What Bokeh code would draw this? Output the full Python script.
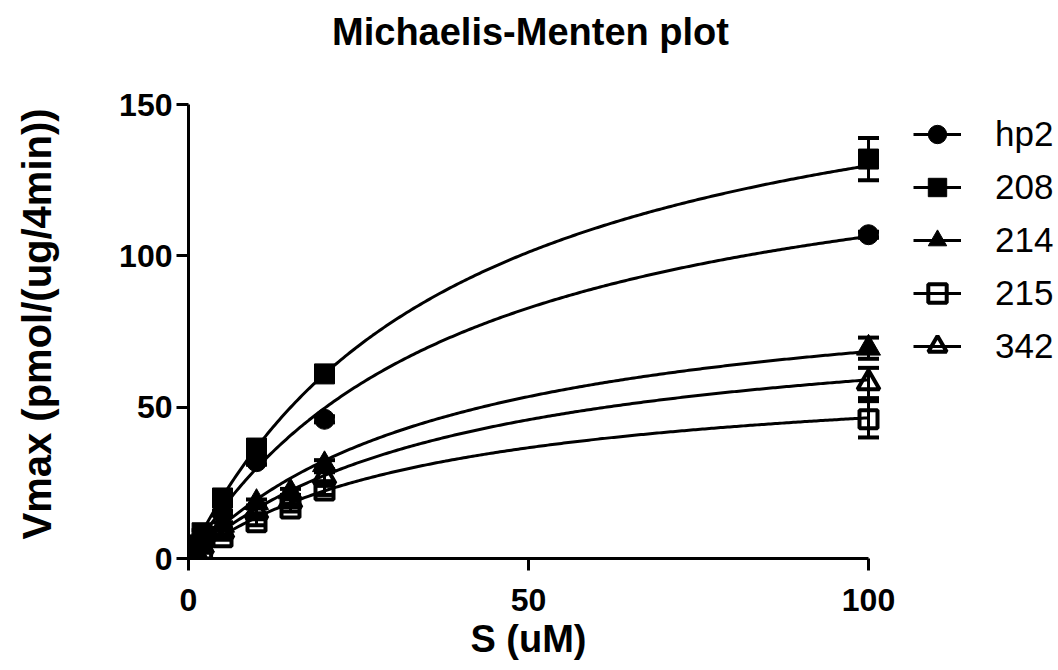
import numpy as np
from bokeh.plotting import figure
from bokeh.models import (Range1d, FixedTicker, Legend, LegendItem, Label,
                          Whisker, ColumnDataSource, TeeHead)
from bokeh.embed import file_html
from bokeh.resources import INLINE

# ---------------- data ----------------
title_text = "Michaelis-Menten plot"
x_label = "S (uM)"
y_label = "Vmax (pmol/(ug/4min))"
x_ticks = [0, 50, 100]
y_ticks = [0, 50, 100, 150]

series_names = ["hp2", "208", "214", "215", "342"]
series_markers = ["circle", "square", "triangle", "square", "triangle"]
series_filled = [True, True, True, False, False]

S_a = [0, 1, 2, 5, 10, 20, 100]
S_b = [0, 1, 2, 5, 10, 15, 20, 100]

v_hp2 = [0, 3, 6.5, 15, 32, 46, 107]
e_hp2 = [0, 0.3, 0.5, 0.8, 1, 1, 1]
v_208 = [0, 4.5, 8.5, 20, 36.5, 61, 132]
e_208 = [0, 0.4, 0.8, 1.5, 2, 2, 7]
v_214 = [0, 2.5, 4.5, 11, 18.5, 22, 31, 69.5]
e_214 = [0, 0.3, 0.5, 1, 1, 1, 1.5, 3.5]
v_215 = [0, 1.5, 3, 7, 12, 16.5, 22.5, 46]
e_215 = [0, 0.2, 0.4, 0.8, 1, 1, 1.5, 6]
v_342 = [0, 2, 4, 9, 15.5, 19, 27, 58]
e_342 = [0, 0.3, 0.5, 1, 1, 1, 1.5, 5]

# fitted Michaelis-Menten parameters (Vmax, Km) per series
vmax_fit = [149, 181, 94.8, 63.7, 82.9]
km_fit = [40, 39.4, 38.6, 37, 40.4]

series_x = [S_a, S_a, S_b, S_b, S_b]
series_y = [v_hp2, v_208, v_214, v_215, v_342]
series_e = [e_hp2, e_208, e_214, e_215, e_342]

FONT = "Liberation Sans"
NBSP = "\u00a0"

# ---------------- figure ----------------
# frame spans to the right and top edges so the legend/title (inside it) are not clipped
p = figure(width=1058, height=670, title=None,
           x_range=Range1d(0, 127.94), y_range=Range1d(0, 184.4),
           output_backend="svg", toolbar_location=None,
           min_border_left=188, min_border_right=0,
           min_border_top=0, min_border_bottom=112)
p.outline_line_color = None
p.xgrid.visible = False
p.ygrid.visible = False
p.background_fill_color = "white"

for ax, ticks, bnds in ((p.xaxis[0], x_ticks, (0, 100)),
                        (p.yaxis[0], y_ticks, (0, 150))):
    ax.ticker = FixedTicker(ticks=ticks)
    ax.bounds = bnds
    ax.axis_line_width = 3
    ax.axis_line_color = "black"
    ax.major_tick_line_width = 3
    ax.major_tick_line_color = "black"
    ax.major_tick_out = 12
    ax.major_tick_in = 0
    ax.minor_tick_line_color = None
    ax.major_label_text_font = FONT
    ax.major_label_text_font_style = "bold"
    ax.major_label_text_font_size = "32px"
    ax.major_label_text_color = "black"
    ax.axis_label_text_font = FONT
    ax.axis_label_text_font_style = "bold"
    ax.axis_label_text_color = "black"
# axis titles are centred on the (extended) frame; trailing no-break spaces
# move the visible text back over the axis span
p.xaxis[0].axis_label = x_label + NBSP * 18
p.yaxis[0].axis_label = y_label + NBSP * 8
p.xaxis[0].major_label_standoff = 18
p.xaxis[0].axis_label_standoff = 4
p.xaxis[0].axis_label_text_font_size = "38px"
p.yaxis[0].major_label_standoff = 4
p.yaxis[0].axis_label_standoff = 57
p.yaxis[0].axis_label_text_font_size = "40px"

s_fit = np.linspace(0, 100, 300)

legend_items = {}
draw_order = [3, 4, 2, 0, 1]
for i in draw_order:
    xs = np.array(series_x[i], dtype=float)
    ys = np.array(series_y[i], dtype=float)
    es = np.array(series_e[i], dtype=float)
    src = ColumnDataSource(dict(x=xs, y=ys, upper=ys + es, lower=ys - es))
    w = Whisker(source=src, base="x", upper="upper", lower="lower",
                line_width=3, line_color="black",
                upper_head=TeeHead(size=21, line_width=4, line_color="black"),
                lower_head=TeeHead(size=21, line_width=4, line_color="black"))
    p.add_layout(w)
    v_fit = vmax_fit[i] * s_fit / (km_fit[i] + s_fit)
    lr = p.line(s_fit, v_fit, line_width=3, line_color="black")
    size = {"triangle": 24, "square": 20, "circle": 20}[series_markers[i]]
    if series_filled[i]:
        sr = p.scatter("x", "y", source=src, marker=series_markers[i], size=size,
                       fill_color="black", line_color="black", line_width=1)
    else:
        sr = p.scatter("x", "y", source=src, marker=series_markers[i], size=size - 2,
                       fill_color=None, line_color="black", line_width=4)
    legend_items[i] = LegendItem(label=series_names[i], renderers=[lr, sr])

legend = Legend(items=[legend_items[i] for i in range(5)],
                location=(725, 189), border_line_color=None,
                background_fill_alpha=0, glyph_width=48, glyph_height=46,
                label_height=46, spacing=7, label_standoff=34, padding=10,
                margin=0, label_text_font=FONT, label_text_font_size="35px",
                label_text_color="black")
p.add_layout(legend)

# chart title (screen units, relative to the frame's bottom-left corner)
p.add_layout(Label(x=342, y=527, x_units="screen", y_units="screen",
                   text=title_text, text_font=FONT, text_font_style="bold",
                   text_font_size="38px", text_align="center",
                   text_baseline="alphabetic", text_color="black"))

open("out.html", "w").write(file_html(p, INLINE))
